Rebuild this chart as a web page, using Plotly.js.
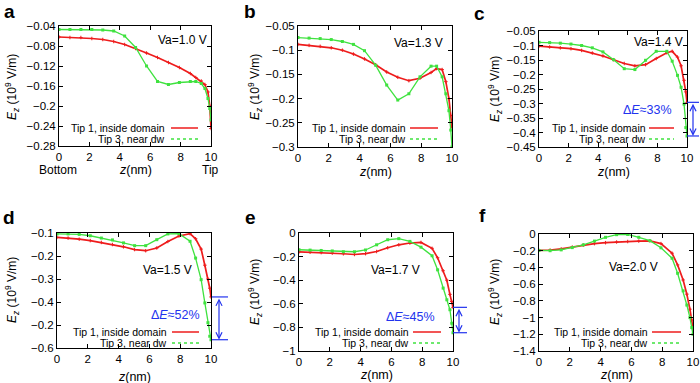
<!DOCTYPE html>
<html><head><meta charset="utf-8">
<script src="https://cdn.plot.ly/plotly-3.0.1.min.js"></script>
<style>html,body{margin:0;padding:0;background:#fff}#plot{width:700px;height:383px}</style>
</head><body><div id="plot"></div>
<script>
// ---- data ----
const z = [0,0.72,1.44,2.16,2.88,3.6,4.32,5.04,5.76,6.48,7.2,7.92,8.64,9.0,9.36,9.6,9.8,9.92,10];

const tip1A = [-0.062,-0.063,-0.063,-0.065,-0.067,-0.071,-0.077,-0.085,-0.094,-0.103,-0.113,-0.123,-0.135,-0.143,-0.15,-0.157,-0.172,-0.2,-0.245];
const tip3A = [-0.047,-0.047,-0.047,-0.047,-0.048,-0.05,-0.06,-0.083,-0.12,-0.151,-0.157,-0.153,-0.151,-0.151,-0.155,-0.165,-0.185,-0.205,-0.228];

const tip1B = [-0.088,-0.09,-0.092,-0.095,-0.1,-0.108,-0.118,-0.13,-0.145,-0.156,-0.163,-0.158,-0.146,-0.138,-0.14,-0.165,-0.2,-0.235,-0.26];
const tip3B = [-0.074,-0.075,-0.076,-0.078,-0.082,-0.088,-0.101,-0.131,-0.172,-0.203,-0.19,-0.155,-0.133,-0.133,-0.155,-0.19,-0.225,-0.265,-0.3];

const tip1C = [-0.102,-0.105,-0.108,-0.111,-0.117,-0.126,-0.136,-0.149,-0.162,-0.17,-0.166,-0.145,-0.125,-0.12,-0.14,-0.17,-0.22,-0.26,-0.296];
const tip3C = [-0.089,-0.09,-0.092,-0.095,-0.1,-0.108,-0.122,-0.149,-0.18,-0.183,-0.151,-0.12,-0.12,-0.154,-0.203,-0.244,-0.302,-0.383,-0.412];

const tip1D = [-0.119,-0.122,-0.127,-0.133,-0.141,-0.15,-0.16,-0.172,-0.177,-0.165,-0.137,-0.113,-0.103,-0.125,-0.17,-0.24,-0.3,-0.34,-0.378];
const tip3D = [-0.104,-0.104,-0.106,-0.112,-0.122,-0.13,-0.143,-0.155,-0.155,-0.129,-0.104,-0.103,-0.136,-0.209,-0.303,-0.404,-0.49,-0.549,-0.564];

const tip1E = [-0.16,-0.163,-0.166,-0.17,-0.176,-0.182,-0.175,-0.157,-0.125,-0.1,-0.085,-0.08,-0.13,-0.21,-0.32,-0.4,-0.52,-0.58,-0.63];
const tip3E = [-0.142,-0.145,-0.148,-0.152,-0.159,-0.159,-0.144,-0.1,-0.057,-0.048,-0.071,-0.12,-0.193,-0.312,-0.467,-0.566,-0.65,-0.765,-0.845];

const tip1F = [-0.196,-0.192,-0.178,-0.156,-0.132,-0.115,-0.104,-0.096,-0.09,-0.085,-0.082,-0.115,-0.23,-0.37,-0.55,-0.72,-0.9,-1.03,-1.13];
const tip3F = [-0.196,-0.2,-0.19,-0.163,-0.13,-0.085,-0.04,-0.008,-0.005,-0.04,-0.08,-0.165,-0.29,-0.47,-0.68,-0.85,-1.0,-1.12,-1.2];

const xTickVals = [0,2,4,6,8,10];
const xTickText = ["0","2","4","6","8","10"];

const yTickValsA = [-0.28,-0.24,-0.2,-0.16,-0.12,-0.08,-0.04];
const yTickTextA = ["−0.28","−0.24","−0.2","−0.16","−0.12","−0.08","−0.04"];
const yTickValsB = [-0.3,-0.25,-0.2,-0.15,-0.1,-0.05];
const yTickTextB = ["−0.3","−0.25","−0.2","−0.15","−0.1","−0.05"];
const yTickValsC = [-0.45,-0.4,-0.35,-0.3,-0.25,-0.2,-0.15,-0.1,-0.05];
const yTickTextC = ["−0.45","−0.4","−0.35","−0.3","−0.25","−0.2","−0.15","−0.1","−0.05"];
const yTickValsD = [-0.6,-0.5,-0.4,-0.3,-0.2,-0.1];
const yTickTextD = ["−0.6","−0.2","−0.4","−0.3","−0.2","−0.1"];
const yTickValsE = [-1,-0.8,-0.6,-0.4,-0.2,0];
const yTickTextE = ["−1","−0.8","−0.6","−0.4","−0.2","0"];
const yTickValsF = [-1.4,-1.2,-1,-0.8,-0.6,-0.4,-0.2,0];
const yTickTextF = ["−1.4","−1.2","−1","−0.8","−0.6","−0.4","−0.2","0"];

const panelLetters = ["a","b","c","d","e","f"];
const vaLabels = ["Va=1.0 V","Va=1.3 V","Va=1.4 V","Va=1.5 V","Va=1.7 V","Va=2.0 V"];
const seriesNames = ["Tip 1, inside domain","Tip 3, near dw"];
const deltaLabels = {c:"33%", d:"52%", e:"45%"};

// ---- layout geometry (pixels) ----
const W = 700, H = 383;
const px = v => v / W, py = v => 1 - v / H;
const boxes = [
  {l:59, r:211, t:26, b:146},
  {l:298, r:452, t:26, b:147},
  {l:539, r:687, t:31, b:147},
  {l:57, r:211, t:233, b:348},
  {l:299, r:453, t:233, b:351},
  {l:539, r:693, t:234, b:351}
];
const ranges = [[-0.28,-0.04],[-0.3,-0.05],[-0.45,-0.05],[-0.6,-0.1],[-1,0],[-1.4,0]];
const yTV = [yTickValsA,yTickValsB,yTickValsC,yTickValsD,yTickValsE,yTickValsF];
const yTT = [yTickTextA,yTickTextB,yTickTextC,yTickTextD,yTickTextE,yTickTextF];
const tip1 = [tip1A,tip1B,tip1C,tip1D,tip1E,tip1F];
const tip3 = [tip3A,tip3B,tip3C,tip3D,tip3E,tip3F];

const RED = '#ee1c1c', GREEN = '#3fe23f', BLUE = '#2233ee';
const FONT = 'Liberation Sans, Arial, Helvetica, sans-serif';

const data = [];
const layout = {
  width: W, height: H, margin: {l:0,r:0,t:0,b:0},
  paper_bgcolor:'#fff', plot_bgcolor:'#fff', showlegend:false,
  font:{family:FONT, size:11.5, color:'#000'},
  annotations: [], shapes: []
};

// placement of texts (pixels)
const letterPos = [[9,11],[250,11],[479,13],[9,218],[250,217],[482,215]];
const vaPos = [[182,40],[418,43],[658,42],[167,270],[395,270],[633,267]];
const ytitlePos = [[12,87],[255,87],[495,89],[12,290],[255,292],[495,292]];
const xtitleY = [170,172,172,377,375,375];
const legPos = [ // text right end, sample x0, x1, y1, y2
  [166,171,198,128,139],[407,410,438,128,139],[647,649,674,128,139],
  [168,172,199,332,343],[410,413,441,332,343],[649,652,681,332,343]
];

for (let i = 0; i < 6; i++) {
  const k = i === 0 ? '' : String(i+1);
  const xa = 'x' + k, ya = 'y' + k;
  const bx = boxes[i];
  data.push({x:z, y:tip1[i], xaxis:xa, yaxis:ya, type:'scatter', mode:'lines+markers',
    name:seriesNames[0], line:{color:RED, width:1.7}, marker:{color:RED, size:2.5, symbol:'cross-thin', line:{color:RED,width:1}}});
  data.push({x:z, y:tip3[i], xaxis:xa, yaxis:ya, type:'scatter', mode:'lines+markers',
    name:seriesNames[1], line:{color:GREEN, width:1.3}, marker:{color:GREEN, size:3, symbol:'square'}});

  const axCommon = {showline:true, linecolor:'#000', linewidth:1, mirror:'ticks', ticks:'inside',
    ticklen:4, tickcolor:'#000', showgrid:false, zeroline:false, tickfont:{family:FONT, size:11.5, color:'#000'}};
  layout['xaxis' + k] = Object.assign({}, axCommon, {domain:[px(bx.l), px(bx.r)], range:[0,10],
    anchor:ya, tickmode:'array', tickvals:xTickVals, ticktext:xTickText});
  layout['yaxis' + k] = Object.assign({}, axCommon, {domain:[py(bx.b), py(bx.t)], range:ranges[i],
    anchor:xa, tickmode:'array', tickvals:yTV[i], ticktext:yTT[i]});

  const A = layout.annotations;
  A.push({xref:'paper', yref:'paper', x:px(letterPos[i][0]), y:py(letterPos[i][1]), text:'<b>'+panelLetters[i]+'</b>',
    showarrow:false, xanchor:'center', yanchor:'middle', font:{family:FONT, size:19, color:'#000'}});
  A.push({xref:'paper', yref:'paper', x:px(vaPos[i][0]), y:py(vaPos[i][1]), text:vaLabels[i],
    showarrow:false, xanchor:'center', yanchor:'middle', font:{family:FONT, size:12, color:'#000'}});
  A.push({xref:'paper', yref:'paper', x:px(ytitlePos[i][0]), y:py(ytitlePos[i][1]),
    text:'<i>E<sub>z</sub></i> (10<sup>9</sup> V/m)', textangle:-90,
    showarrow:false, xanchor:'center', yanchor:'middle', font:{family:FONT, size:12, color:'#000'}});
  A.push({xref:'paper', yref:'paper', x:px((bx.l+bx.r)/2), y:py(xtitleY[i]),
    text:'<i>z</i>(nm)', showarrow:false, xanchor:'center', yanchor:'middle', font:{family:FONT, size:12.5, color:'#000'}});
  const lp = legPos[i];
  A.push({xref:'paper', yref:'paper', x:px(lp[0]), y:py(lp[3]), text:seriesNames[0], borderpad:0,
    showarrow:false, xanchor:'right', yanchor:'middle', font:{family:FONT, size:10.5, color:'#000'}});
  A.push({xref:'paper', yref:'paper', x:px(lp[0]), y:py(lp[4]), text:seriesNames[1], borderpad:0,
    showarrow:false, xanchor:'right', yanchor:'middle', font:{family:FONT, size:10.5, color:'#000'}});
  layout.shapes.push({type:'line', xref:'paper', yref:'paper', x0:px(lp[1]), x1:px(lp[2]), y0:py(lp[3]), y1:py(lp[3]),
    line:{color:RED, width:1.5}});
  layout.shapes.push({type:'line', xref:'paper', yref:'paper', x0:px(lp[1]), x1:px(lp[2]), y0:py(lp[4]), y1:py(lp[4]),
    line:{color:GREEN, width:1.5, dash:'dot'}});
}

// "Bottom" and "Tip" labels in panel a
layout.annotations.push({xref:'paper', yref:'paper', x:px(58), y:py(170), text:'Bottom', showarrow:false,
  xanchor:'center', yanchor:'middle', font:{family:FONT, size:12, color:'#000'}});
layout.annotations.push({xref:'paper', yref:'paper', x:px(210), y:py(170), text:'Tip', showarrow:false,
  xanchor:'center', yanchor:'middle', font:{family:FONT, size:12, color:'#000'}});

// ΔE arrows (panels c, d, e)
const deltaSpec = [
  {idx:2, key:'c', ax:693, c0:687, c1:699, tx:647, ty:110},
  {idx:3, key:'d', ax:219, c0:212, c1:228, tx:175, ty:315},
  {idx:4, key:'e', ax:459, c0:453, c1:467, tx:410, ty:317}
];
for (const s of deltaSpec) {
  const ya = 'y' + (s.idx+1);
  const top = tip1[s.idx][tip1[s.idx].length-1];
  const bot = tip3[s.idx][tip3[s.idx].length-1];
  layout.annotations.push({xref:'paper', yref:ya, x:px(s.ax), y:bot, axref:'pixel', ax:0, ayref:ya, ay:top,
    showarrow:true, arrowside:'end+start', arrowhead:5, arrowsize:1, arrowwidth:1.2, arrowcolor:BLUE, text:''});
  layout.shapes.push({type:'line', xref:'paper', yref:ya, x0:px(s.c0), x1:px(s.c1), y0:top, y1:top, line:{color:BLUE, width:1.2}});
  layout.shapes.push({type:'line', xref:'paper', yref:ya, x0:px(s.c0), x1:px(s.c1), y0:bot, y1:bot, line:{color:BLUE, width:1.2}});
  layout.annotations.push({xref:'paper', yref:'paper', x:px(s.tx), y:py(s.ty), text:'Δ<i>E</i>≈'+deltaLabels[s.key],
    showarrow:false, xanchor:'center', yanchor:'middle', font:{family:FONT, size:12.5, color:BLUE}});
}

Plotly.newPlot('plot', data, layout, {staticPlot:true, displayModeBar:false});
</script></body></html>
